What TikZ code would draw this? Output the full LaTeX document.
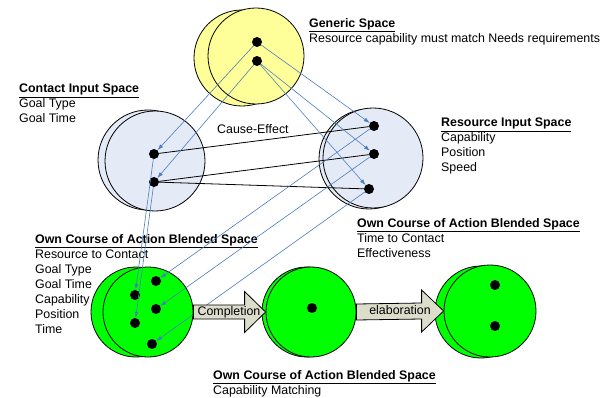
\documentclass[tikz,border=0pt]{standalone}
\usepackage{fontspec}
\setmainfont{Liberation Sans}
\usetikzlibrary{arrows.meta,calc}
\definecolor{genyellow}{RGB}{255,255,153}
\definecolor{inblue}{RGB}{228,234,246}
\definecolor{blendgreen}{RGB}{0,255,0}
\definecolor{maplink}{RGB}{74,126,187}
\definecolor{stepfill}{RGB}{221,221,204}
\begin{document}
\begin{tikzpicture}[x=1pt,y=-1pt,
  every text node part/.style={align=left},
  ring/.style={draw,circle,inner sep=0pt,line width=0.8pt,minimum size=#1},
  elem/.style={circle,fill=black,inner sep=0pt,minimum size=10pt},
  info/.style={anchor=north west,inner sep=0pt,font=\fontsize{12.4}{15}\selectfont},
  mapping/.style={draw=maplink,line width=0.6pt,-{Latex[length=6pt,width=4pt]}},
  relation/.style={draw,line width=0.8pt},
  stepbox/.style={draw,line width=0.8pt,fill=stepfill}]
  \useasboundingbox (0,0) rectangle (602,398);

  \node[ring=96, fill=genyellow] (genb) at (242,58) {};
  \node[ring=96, fill=genyellow] (gen) at (256,56) {};
  \node[ring=100, fill=inblue] (conb) at (148,160) {};
  \node[ring=100, fill=inblue] (con) at (155,161) {};
  \node[ring=100, fill=inblue] (resb) at (369,159) {};
  \node[ring=100, fill=inblue] (res) at (373,158) {};
  \node[ring=90, fill=blendgreen] (glb) at (136,312) {};
  \node[ring=90, fill=blendgreen] (gl) at (148,312) {};
  \node[ring=90, fill=blendgreen] (gmb) at (307,312) {};
  \node[ring=90, fill=blendgreen] (gm) at (311,312) {};
  \node[ring=92, fill=blendgreen] (grb) at (481,312) {};
  \node[ring=92, fill=blendgreen] (gr) at (490,311) {};

  \node[info] (gentxt) at (309,18) {\underline{\textbf{Generic Space}}\\Resource capability must match Needs requirements};
  \node[info] (contxt) at (19,84) {\underline{\textbf{Contact Input Space}}\\Goal Type\\Goal Time};
  \node[info] (restxt) at (441,118) {\underline{\textbf{Resource Input Space}}\\Capability\\Position\\Speed};
  \node[info] (owntxt) at (357,218) {\underline{\textbf{Own Course of Action Blended Space}}\\Time to Contact\\Effectiveness};
  \node[info] (gltxt) at (35,234) {\underline{\textbf{Own Course of Action Blended Space}}\\Resource to Contact\\Goal Type\\Goal Time\\Capability\\Position\\Time};
  \node[info] (matchtxt) at (213,370) {\underline{\textbf{Own Course of Action Blended Space}}\\Capability Matching};
  \node[info, anchor=base west] (cause) at (217,134) {Cause-Effect};

  \node[elem] (a1) at (257,42) {};
  \node[elem] (a2) at (257,61) {};
  \node[elem] (c1) at (154,154) {};
  \node[elem] (c2) at (154,182) {};
  \node[elem] (r1) at (374,126) {};
  \node[elem] (r2) at (374,154) {};
  \node[elem] (r3) at (369,189) {};
  \node[elem] (g1) at (156,281) {};
  \node[elem] (g2) at (135,295) {};
  \node[elem] (g3) at (156,309) {};
  \node[elem] (g4) at (135,323) {};
  \node[elem] (g5) at (152,344) {};
  \node[elem] (m1) at (312,308) {};
  \node[elem] (e1) at (495,285) {};
  \node[elem] (e2) at (495,326) {};

  \draw[relation] (c1) -- (r1);
  \draw[relation] (c2) -- (r2);
  \draw[relation] (c2) -- (r3);

  \draw[mapping] (a1) -- (c1);
  \draw[mapping] (a1) -- (r1);
  \draw[mapping] (a2) -- (c2);
  \draw[mapping] (a2) -- (r2);
  \draw[mapping] (a2) -- (r3);
  \draw[mapping] (c1) -- (g2);
  \draw[mapping] (c2) -- (g4);
  \draw[mapping] (r1) -- (g1);
  \draw[mapping] (r2) -- (g3);
  \draw[mapping] (r3) -- (g5);

  \draw[stepbox] ($(gl.east)+(0,-7)$) -- ($(gm.west)+(-21,-7)$) -- ($(gm.west)+(-21,-20.5)$) -- (gm.west)
    -- ($(gm.west)+(-21,20.5)$) -- ($(gm.west)+(-21,7)$) -- ($(gl.east)+(0,7)$) -- cycle;
  \draw[stepbox] ($(gm.east)+(0,-8)$) -- ($(gr.west)+(-22,-8)$) -- ($(gr.west)+(-22,-21)$) -- (gr.west)
    -- ($(gr.west)+(-22,21)$) -- ($(gr.west)+(-22,8)$) -- ($(gm.east)+(0,8)$) -- cycle;
  \node[info, anchor=base] (compl) at (229,315.5) {Completion};
  \node[info, anchor=base] (elab) at (400,314) {elaboration};
\end{tikzpicture}
\end{document}
